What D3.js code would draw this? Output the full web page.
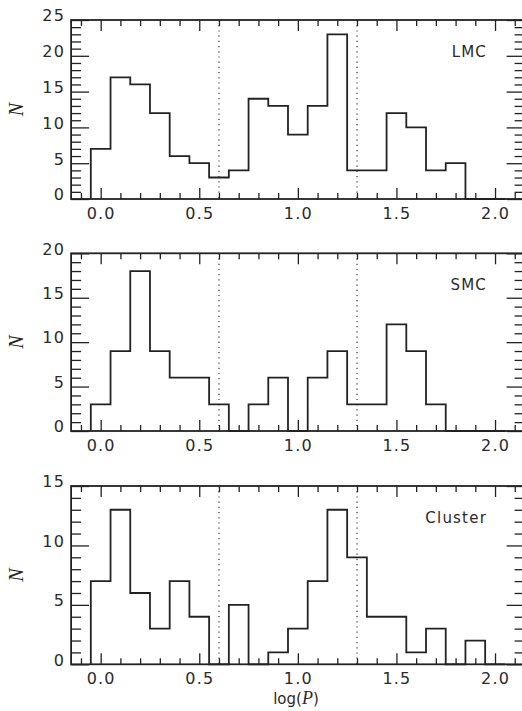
<!DOCTYPE html>
<html>
<head>
<meta charset="utf-8">
<script src="https://cdn.jsdelivr.net/npm/d3@7"></script>
<style>
  body { margin: 0; background: #fff; }
  svg { display: block; }
  .tick text { font-family: "DejaVu Sans", sans-serif; font-size: 16px; letter-spacing: 1.2px; fill: #2a2a2a; }
</style>
</head>
<body>
<div id="chart"></div>
<script>
// ---------------- data ----------------
const binCenters = [0.0, 0.1, 0.2, 0.3, 0.4, 0.5, 0.6, 0.7, 0.8, 0.9, 1.0,
                    1.1, 1.2, 1.3, 1.4, 1.5, 1.6, 1.7, 1.8, 1.9, 2.0];
const binWidth = 0.1;
const lmcCounts     = [7, 17, 16, 12, 6, 5, 3, 4, 14, 13, 9, 13, 23, 4, 4, 12, 10, 4, 5, 0, 0];
const smcCounts     = [3, 9, 18, 9, 6, 6, 3, 0, 3, 6, 0, 6, 9, 3, 3, 12, 9, 3, 0, 0, 0];
const clusterCounts = [7, 13, 6, 3, 7, 4, 0, 5, 0, 1, 3, 7, 13, 9, 4, 4, 1, 3, 0, 2, 0];
const panelNames = ["LMC", "SMC", "Cluster"];
const panelMax = [25, 20, 15];
const dividers = [0.6, 1.3];
const xDomain = [-0.15, 2.15];

// ---------------- layout ----------------
const width = 522, height = 711;
const svg = d3.select("#chart").append("svg").attr("width", width).attr("height", height);

const x = d3.scaleLinear().domain(xDomain).range([71.1, 524.6]);
const panelTops = [20, 253.3, 486];
const panelBottoms = [199, 431, 664.3];
const seriesList = [lmcCounts, smcCounts, clusterCounts];

const stepLine = d3.line().curve(d3.curveStepAfter).x(d => x(d[0]));

panelNames.forEach((name, i) => {
  const top = panelTops[i], bottom = panelBottoms[i];
  const y = d3.scaleLinear().domain([0, panelMax[i]]).range([bottom, top]);
  const g = svg.append("g");
  const counts = seriesList[i];

  // dotted dividers
  g.selectAll(".div").data(dividers).join("line")
    .attr("x1", d => x(d)).attr("x2", d => x(d))
    .attr("y1", top).attr("y2", bottom)
    .attr("stroke", "#333").attr("stroke-width", 1.2)
    .attr("stroke-dasharray", "1.2,4");

  // histogram steps
  const pts = [[binCenters[0] - binWidth / 2, 0]];
  binCenters.forEach((c, j) => pts.push([c - binWidth / 2, counts[j]]));
  const last = binCenters[binCenters.length - 1] + binWidth / 2;
  pts.push([last, counts[counts.length - 1]]);
  pts.push([last, 0]);
  g.append("path")
    .attr("d", stepLine.y(d => y(d[1]))(pts))
    .attr("fill", "none").attr("stroke", "#222").attr("stroke-width", 1.8);

  // axes ticks
  const majorX = [0, 0.5, 1.0, 1.5, 2.0];
  const minorX = x.ticks(23).filter(v => !majorX.some(m => Math.abs(m - v) < 1e-6));
  const majorY = d3.range(0, panelMax[i] + 1, 5);
  const minorY = d3.range(0, panelMax[i] + 1, 1).filter(v => v % 5 !== 0);

  g.append("g").attr("transform", `translate(0,${bottom})`)
    .call(d3.axisBottom(x).tickValues(majorX).tickSize(-11).tickPadding(8.5)
      .tickFormat(d3.format(".1f")));
  g.append("g").attr("transform", `translate(0,${bottom})`)
    .call(d3.axisBottom(x).tickValues(minorX).tickSize(-6).tickFormat(""));
  g.append("g").attr("transform", `translate(0,${top})`)
    .call(d3.axisTop(x).tickValues(majorX).tickSize(-11).tickFormat(""));
  g.append("g").attr("transform", `translate(0,${top})`)
    .call(d3.axisTop(x).tickValues(minorX).tickSize(-6).tickFormat(""));

  const leftAxis = g.append("g").attr("transform", `translate(${x(xDomain[0])},0)`)
    .call(d3.axisLeft(y).tickValues(majorY).tickSize(-18).tickPadding(6));
  g.append("g").attr("transform", `translate(${x(xDomain[0])},0)`)
    .call(d3.axisLeft(y).tickValues(minorY).tickSize(-10).tickFormat(""));
  g.append("g").attr("transform", `translate(${x(xDomain[1])},0)`)
    .call(d3.axisRight(y).tickValues(majorY).tickSize(-18).tickFormat(""));
  g.append("g").attr("transform", `translate(${x(xDomain[1])},0)`)
    .call(d3.axisRight(y).tickValues(minorY).tickSize(-10).tickFormat(""));

  leftAxis.selectAll("text").attr("dy", "0.05em");
  g.selectAll(".domain").remove();
  g.selectAll(".tick line").attr("stroke", "#222").attr("stroke-width", 1.3);

  // frame
  g.append("rect")
    .attr("x", x(xDomain[0])).attr("y", top)
    .attr("width", x(xDomain[1]) - x(xDomain[0])).attr("height", bottom - top)
    .attr("fill", "none").attr("stroke", "#222").attr("stroke-width", 1.8);

  // panel name
  g.append("text")
    .attr("x", 487).attr("y", top + 36.5)
    .attr("text-anchor", "end")
    .style("font-family", "DejaVu Sans, sans-serif").style("font-size", "15px")
    .style("letter-spacing", "1.2px").attr("fill", "#2a2a2a")
    .text(name);

  // y label
  g.append("text")
    .attr("transform", `translate(23,${(top + bottom) / 2}) rotate(-90)`)
    .attr("text-anchor", "middle")
    .style("font-family", "Liberation Serif, serif").style("font-style", "italic")
    .style("font-size", "20px").attr("fill", "#222")
    .text("N");
});

// x label
const xl = svg.append("text")
  .attr("x", 296).attr("y", 704)
  .attr("text-anchor", "middle")
  .style("font-family", "DejaVu Sans, sans-serif").style("font-size", "15px")
  .attr("fill", "#2a2a2a");
xl.append("tspan").text("log(");
xl.append("tspan").style("font-family", "Liberation Serif, serif").style("font-style", "italic")
  .style("font-size", "18px").text("P");
xl.append("tspan").text(")");
</script>
</body>
</html>
